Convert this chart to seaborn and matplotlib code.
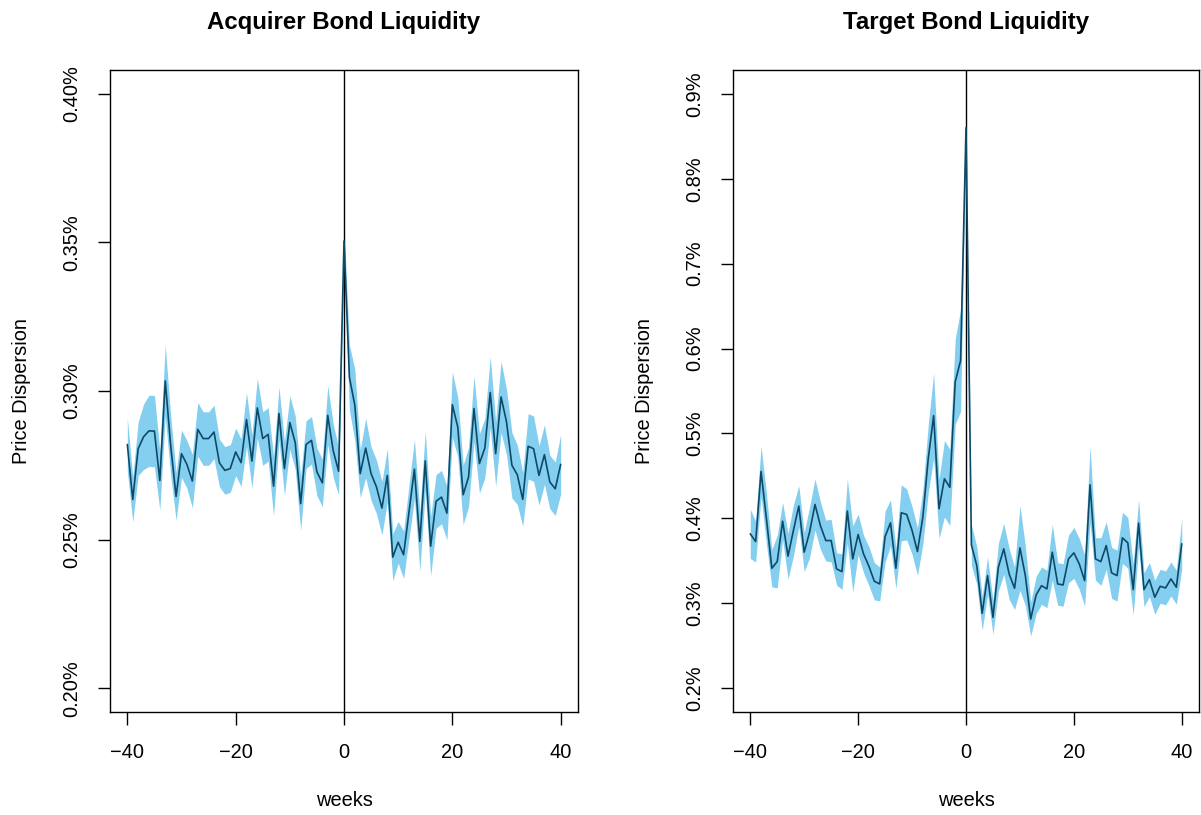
import matplotlib
matplotlib.use("Agg")
import matplotlib.pyplot as plt
import numpy as np
import pandas as pd
import seaborn as sns
from matplotlib.ticker import FuncFormatter

# weeks relative to the announcement
weeks = list(range(-40, 41))

# Acquirer: mean price dispersion (%) and half-width of the band
acq_mean = [
    0.2820, 0.2635, 0.2806, 0.2846, 0.2866, 0.2865, 0.2699, 0.3034, 0.2817, 0.2645,
    0.2789, 0.2753, 0.2697, 0.2871, 0.2840, 0.2840, 0.2862, 0.2758, 0.2733, 0.2739,
    0.2795, 0.2759, 0.2904, 0.2764, 0.2943, 0.2840, 0.2854, 0.2680, 0.2924, 0.2739,
    0.2894, 0.2826, 0.2621, 0.2820, 0.2834, 0.2728, 0.2691, 0.2918, 0.2800, 0.2730,
    0.3505,
    0.3046, 0.2952, 0.2722, 0.2808, 0.2722, 0.2677, 0.2606, 0.2716, 0.2441, 0.2491,
    0.2449, 0.2593, 0.2737, 0.2494, 0.2765, 0.2478, 0.2629, 0.2643, 0.2589, 0.2954,
    0.2879, 0.2651, 0.2711, 0.2941, 0.2756, 0.2808, 0.2995, 0.2789, 0.2980, 0.2896,
    0.2750, 0.2718, 0.2635, 0.2814, 0.2806, 0.2716, 0.2786, 0.2694, 0.2671, 0.2753,
]
acq_half = [
    0.0090, 0.0075, 0.0090, 0.0110, 0.0120, 0.0120, 0.0100, 0.0120, 0.0100, 0.0080,
    0.0080, 0.0080, 0.0090, 0.0090, 0.0090, 0.0090, 0.0090, 0.0080, 0.0080, 0.0080,
    0.0080, 0.0080, 0.0090, 0.0090, 0.0100, 0.0090, 0.0090, 0.0100, 0.0090, 0.0090,
    0.0090, 0.0090, 0.0090, 0.0080, 0.0080, 0.0080, 0.0080, 0.0100, 0.0090, 0.0080,
    0.0050,
    0.0110, 0.0120, 0.0080, 0.0100, 0.0090, 0.0090, 0.0090, 0.0090, 0.0080, 0.0070,
    0.0080, 0.0090, 0.0100, 0.0100, 0.0100, 0.0100, 0.0090, 0.0090, 0.0090, 0.0110,
    0.0100, 0.0100, 0.0100, 0.0110, 0.0100, 0.0100, 0.0120, 0.0110, 0.0120, 0.0110,
    0.0110, 0.0100, 0.0090, 0.0110, 0.0110, 0.0100, 0.0100, 0.0090, 0.0090, 0.0100,
]

# Target: mean price dispersion (%) and half-width of the band
tgt_mean = [
    0.3818, 0.3727, 0.4553, 0.3995, 0.3413, 0.3491, 0.3967, 0.3555, 0.3858, 0.4145,
    0.3602, 0.3838, 0.4164, 0.3916, 0.3739, 0.3739, 0.3405, 0.3373, 0.4086, 0.3523,
    0.3810, 0.3582, 0.3437, 0.3260, 0.3228, 0.3786, 0.3948, 0.3413, 0.4066, 0.4046,
    0.3858, 0.3609, 0.4015, 0.4703, 0.5210, 0.4113, 0.4467, 0.4365, 0.5609, 0.5860,
    0.8599,
    0.3688, 0.3444, 0.2882, 0.3326, 0.2834, 0.3425, 0.3641, 0.3346, 0.3177, 0.3653,
    0.3326, 0.2815, 0.3098, 0.3208, 0.3169, 0.3602, 0.3228, 0.3216, 0.3523, 0.3594,
    0.3464, 0.3267, 0.4396, 0.3523, 0.3491, 0.3680, 0.3358, 0.3326, 0.3771, 0.3712,
    0.3161, 0.3944, 0.3161, 0.3279, 0.3071, 0.3200, 0.3181, 0.3287, 0.3189, 0.3700,
]
tgt_half = [
    0.029, 0.024, 0.030, 0.030, 0.022, 0.031, 0.022, 0.027, 0.030, 0.024,
    0.023, 0.030, 0.030, 0.028, 0.024, 0.025, 0.019, 0.021, 0.038, 0.039,
    0.024, 0.022, 0.023, 0.022, 0.020, 0.030, 0.027, 0.024, 0.033, 0.030,
    0.028, 0.028, 0.032, 0.040, 0.050, 0.035, 0.045, 0.045, 0.050, 0.060,
    0.010,
    0.024, 0.022, 0.020, 0.022, 0.020, 0.028, 0.030, 0.030, 0.025, 0.050,
    0.035, 0.020, 0.022, 0.022, 0.022, 0.033, 0.025, 0.025, 0.028, 0.030,
    0.030, 0.030, 0.045, 0.025, 0.028, 0.028, 0.030, 0.030, 0.030, 0.030,
    0.030, 0.028, 0.020, 0.020, 0.020, 0.020, 0.020, 0.020, 0.020, 0.030,
]

panels = [
    ("Acquirer Bond Liquidity", acq_mean, acq_half, (0.20, 0.40), [0.20, 0.25, 0.30, 0.35, 0.40], "{:.2f}%"),
    ("Target Bond Liquidity", tgt_mean, tgt_half, (0.2, 0.9), [0.2, 0.3, 0.4, 0.5, 0.6, 0.7, 0.8, 0.9], "{:.1f}%"),
]

BAND = "#84CFF0"
LINE = "#0E4A68"

sns.set_style("white")
plt.rcParams["font.family"] = ["Liberation Sans", "DejaVu Sans"]
plt.rcParams["axes.unicode_minus"] = True
plt.rcParams["text.color"] = "black"
plt.rcParams["axes.labelcolor"] = "black"
plt.rcParams["xtick.color"] = "black"
plt.rcParams["ytick.color"] = "black"

fig = plt.figure(figsize=(12.01, 8.15), dpi=100)
W, H = 1201, 815
boxes = [(110, 578), (733, 1199)]
top_px, bot_px = 70, 712

for (title, mean, half, ylim, yticks, fmt), (x0, x1) in zip(panels, boxes):
    ax = fig.add_axes([x0 / W, 1 - bot_px / H, (x1 - x0) / W, (bot_px - top_px) / H])
    df = pd.DataFrame({"weeks": weeks, "mean": mean, "half": half})
    df["lo"] = df["mean"] - df["half"]
    df["hi"] = df["mean"] + df["half"]

    ax.fill_between(df["weeks"], df["lo"], df["hi"], color=BAND, linewidth=0, zorder=1)
    sns.lineplot(data=df, x="weeks", y="mean", ax=ax, color=LINE, linewidth=1.2, zorder=3)
    ax.axvline(0, color="black", linewidth=1.0, zorder=2)

    # R-style 4% axis expansion
    xr = 80 * 0.04
    ax.set_xlim(-40 - xr, 40 + xr)
    yr = (ylim[1] - ylim[0]) * 0.04
    ax.set_ylim(ylim[0] - yr, ylim[1] + yr)

    ax.set_xticks([-40, -20, 0, 20, 40])
    ax.set_yticks(yticks)
    ax.yaxis.set_major_formatter(FuncFormatter(lambda v, p, f=fmt: f.format(v)))
    ax.tick_params(axis="both", direction="out", length=9, width=1, labelsize=14.4,
                   color="black", labelcolor="black", left=True, bottom=True)
    ax.tick_params(axis="x", pad=13)
    ax.tick_params(axis="y", pad=12)
    for lab in ax.get_yticklabels():
        lab.set_rotation(90)
        lab.set_va("center")

    for sp in ax.spines.values():
        sp.set_visible(True)
        sp.set_color("black")
        sp.set_linewidth(1.0)

    ax.set_xlabel("weeks", fontsize=14.4, va="center", color="black")
    ax.xaxis.set_label_coords(0.5, -(800 - bot_px) / (bot_px - top_px))
    ax.set_ylabel("Price Dispersion", fontsize=14.4, va="center", color="black")
    ax.yaxis.set_label_coords(-88 / (x1 - x0), 0.5)
    ax.set_title(title, fontsize=17.3, fontweight="bold", y=1 + (70 - 22) / (bot_px - top_px),
                 va="center", pad=0, color="black")
    ax.grid(False)

fig.savefig("out.png", dpi=100)
